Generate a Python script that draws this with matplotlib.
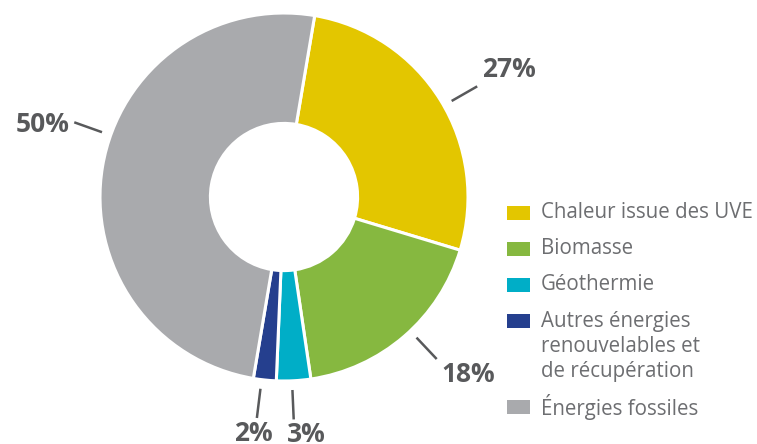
import numpy as np
import matplotlib
matplotlib.use("Agg")
import matplotlib.pyplot as plt
from matplotlib.patches import Rectangle

categories = ["Chaleur issue des UVE", "Biomasse", "Géothermie",
              "Autres énergies\nrenouvelables et\nde récupération", "Énergies fossiles"]
values = [27, 18, 3, 2, 50]
labels = ["27%", "18%", "3%", "2%", "50%"]
colors = ["#E3C600", "#86B840", "#00AEC7", "#253F8E", "#A9AAAD"]
label_angle_adjust = [2, -2.5, 0.5, 1, 10]

plt.rcParams['font.family'] = ['Open Sans', 'DejaVu Sans']
W, H = 757, 444
fig = plt.figure(figsize=(W / 100, H / 100), dpi=100)
ax = fig.add_axes([0, 0, 1, 1])

cx, cy, R = 284, H - 197, 184
start_cw = 9.6  # degrees clockwise from top
wedges, _ = ax.pie(values, colors=colors, startangle=90 - start_cw, counterclock=False,
                   center=(cx, cy), radius=R, frame=True,
                   wedgeprops=dict(width=R * 0.6, edgecolor='white', linewidth=2.2))
ax.set_xlim(0, W)
ax.set_ylim(0, H)
ax.set_aspect('auto')
ax.axis('off')

txtc = "#58595B"
for w, lab, adj in zip(wedges, labels, label_angle_adjust):
    mid = (w.theta1 + w.theta2) / 2 + (-adj)
    a = np.deg2rad(mid)
    dx, dy = np.cos(a), np.sin(a)
    r0, r1 = R * 1.05, R * 1.21
    ax.plot([cx + r0 * dx, cx + r1 * dx], [cy + r0 * dy, cy + r1 * dy],
            color=txtc, lw=1.8, solid_capstyle='butt')
    ex, ey = cx + r1 * dx, cy + r1 * dy
    ha = 'left' if dx > 0 else 'right'
    if dy > 0.4:
        va = 'bottom'
    elif dy < -0.4:
        va = 'top'
    else:
        va = 'center'
    ox = 5 if dx > 0 else -5
    oy = 3 if va == 'bottom' else (-2 if va == 'top' else -2)
    if abs(dx) < 0.2:
        ox = -7 if dx > 0 else 16
    ax.text(ex + ox, ey + oy, lab, ha=ha, va=va, fontsize=19, fontweight='bold', color=txtc)

# legend
legc = "#6D6E71"
y = H - 213
for cat, col in zip(categories, colors):
    ax.add_patch(Rectangle((507, y - 7), 23, 14, facecolor=col, edgecolor='none'))
    for k, line in enumerate(cat.split("\n")):
        ax.text(541, y - k * 25, line, ha='left', va='center', fontsize=14.8, color=legc)
    y -= 36 + 25 * (len(cat.split("\n")) - 1)

fig.savefig("out.png", dpi=100)
